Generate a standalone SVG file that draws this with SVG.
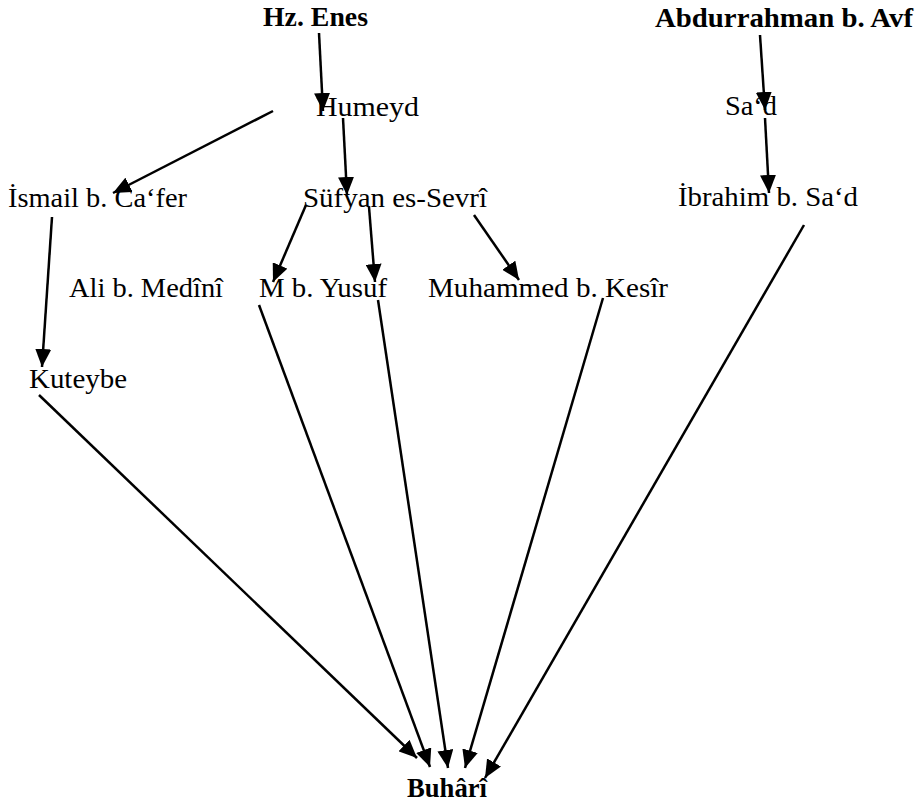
<svg xmlns="http://www.w3.org/2000/svg" width="915" height="806" viewBox="0 0 915 806">
<style>
text{font-family:"Liberation Serif","DejaVu Serif",serif;font-size:28px;fill:#000}
.b{font-weight:bold}
.c line{stroke:#000;stroke-width:2.5;marker-end:url(#ah)}
</style>
<defs>
<marker id="ah" markerUnits="userSpaceOnUse" markerWidth="19" markerHeight="16" refX="18" refY="8" orient="auto" viewBox="0 0 19 16">
<path d="M0,0 L18,8 L0,16 Z" fill="#000"/>
</marker>
</defs>
<rect width="915" height="806" fill="#fff"/>
<g id="n-enes"><text class="b" x="263" y="26" textLength="105" lengthAdjust="spacingAndGlyphs">Hz. Enes</text></g>
<g id="n-abdurrahman"><text class="b" x="655" y="27" textLength="258" lengthAdjust="spacingAndGlyphs">Abdurrahman b. Avf</text></g>
<g id="n-humeyd"><text x="316" y="116" textLength="103" lengthAdjust="spacingAndGlyphs">Humeyd</text></g>
<g id="n-sad"><text x="725" y="115" textLength="52" lengthAdjust="spacingAndGlyphs">Sa‘d</text></g>
<g id="n-ismail"><text x="8" y="207" textLength="179" lengthAdjust="spacingAndGlyphs">İsmail b. Ca‘fer</text></g>
<g id="n-sufyan"><text x="303" y="207" textLength="184" lengthAdjust="spacingAndGlyphs">Süfyan es-Sevrî</text></g>
<g id="n-ibrahim"><text x="678" y="206" textLength="180" lengthAdjust="spacingAndGlyphs">İbrahim b. Sa‘d</text></g>
<g id="n-ali"><text x="69" y="297" textLength="154" lengthAdjust="spacingAndGlyphs">Ali b. Medînî</text></g>
<g id="n-myusuf"><text x="259" y="297" textLength="128" lengthAdjust="spacingAndGlyphs">M b. Yusuf</text></g>
<g id="n-kesir"><text x="428" y="297" textLength="240" lengthAdjust="spacingAndGlyphs">Muhammed b. Kesîr</text></g>
<g id="n-kuteybe"><text x="29" y="388" textLength="98" lengthAdjust="spacingAndGlyphs">Kuteybe</text></g>
<g id="n-buhari"><text class="b" x="407" y="797" textLength="80" lengthAdjust="spacingAndGlyphs">Buhârî</text></g>
<g id="connectors" class="c">
<line x1="319" y1="33" x2="323" y2="111"/>
<line x1="273" y1="111" x2="113" y2="193"/>
<line x1="343" y1="118" x2="347" y2="195"/>
<line x1="760" y1="35" x2="765" y2="110"/>
<line x1="765" y1="118" x2="769" y2="193"/>
<line x1="52" y1="217" x2="42" y2="367"/>
<line x1="306" y1="205" x2="273" y2="282"/>
<line x1="369" y1="207" x2="375" y2="282"/>
<line x1="474" y1="215" x2="519" y2="280"/>
<line x1="259" y1="305" x2="430" y2="767"/>
<line x1="378" y1="300" x2="448" y2="768"/>
<line x1="603" y1="298" x2="465" y2="768"/>
<line x1="39" y1="395" x2="417" y2="758"/>
<line x1="804" y1="225" x2="485" y2="778"/>
</g>
</svg>
